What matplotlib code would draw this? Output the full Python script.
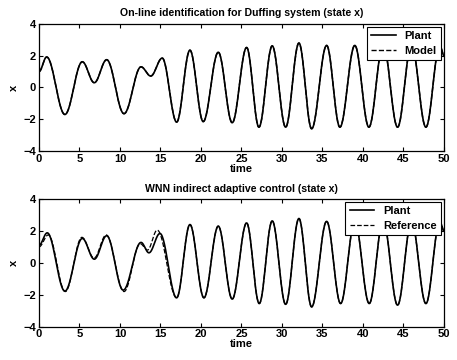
import matplotlib
matplotlib.use("Agg")
import matplotlib.pyplot as plt
import numpy as np

plt.rcParams['font.family'] = ['Liberation Sans', 'DejaVu Sans']
plt.rcParams['font.weight'] = 'bold'
plt.rcParams['font.size'] = 8

# extrema of the curves (time, x)
t_plant1 = [0, 0.95, 3.2, 5.35, 6.83, 8.36, 10.5, 12.6, 13.8, 15.22, 17.0, 18.64,
            20.28, 22.14, 23.86, 25.64, 27.16, 28.8, 30.46, 32.1, 33.67, 35.52,
            37.16, 39.0, 40.74, 42.5, 44.28, 46.0, 47.78, 49.5, 50]
x_plant1 = [1.0, 1.92, -1.7, 1.62, 0.3, 1.75, -1.65, 1.3, 0.72, 1.85, -2.18, 2.35,
            -2.15, 2.22, -2.22, 2.52, -2.5, 2.62, -2.5, 2.8, -2.6, 2.65,
            -2.5, 2.65, -2.5, 2.7, -2.5, 2.7, -2.5, 2.65, 2.0]
# the model follows the plant exactly
t_model1 = t_plant1
x_model1 = x_plant1

t_plant2 = [0, 1.02, 3.2, 5.35, 6.83, 8.36, 10.4, 12.6, 13.58, 14.94, 17.0, 18.64,
            20.37, 22.14, 23.86, 25.64, 27.2, 28.8, 30.46, 32.1, 33.67, 35.52,
            37.25, 39.0, 40.78, 42.5, 44.28, 46.0, 47.78, 49.5, 50]
x_plant2 = [1.1, 1.88, -1.77, 1.53, 0.23, 1.7, -1.71, 1.28, 0.63, 1.84, -2.19, 2.4,
            -2.19, 2.3, -2.27, 2.5, -2.55, 2.63, -2.6, 2.78, -2.76, 2.6,
            -2.55, 2.6, -2.55, 2.65, -2.65, 2.6, -2.55, 2.6, 2.0]
t_ref2 = [0, 1.15, 3.25, 5.3, 6.8, 8.3, 10.5, 12.5, 13.4, 14.6, 17.0, 18.64,
          20.37, 22.14, 23.86, 25.64, 27.2, 28.8, 30.46, 32.1, 33.67, 35.52,
          37.25, 39.0, 40.78, 42.5, 44.28, 46.0, 47.78, 49.5, 50]
x_ref2 = [1.0, 1.75, -1.8, 1.6, 0.3, 1.75, -1.8, 1.2, 0.8, 2.05, -2.19, 2.4,
          -2.19, 2.3, -2.27, 2.5, -2.55, 2.63, -2.6, 2.78, -2.76, 2.6,
          -2.55, 2.6, -2.55, 2.65, -2.65, 2.6, -2.55, 2.6, 2.0]


def smooth(tk, xk, n=30):
    # half-cosine segments between the read extrema
    ts, xs = [], []
    for i in range(len(tk) - 1):
        s = np.linspace(0, 1, n, endpoint=False)
        ts.append(tk[i] + (tk[i + 1] - tk[i]) * s)
        xs.append(xk[i] + (xk[i + 1] - xk[i]) * (1 - np.cos(np.pi * s)) / 2)
    ts.append([tk[-1]])
    xs.append([xk[-1]])
    return np.concatenate(ts), np.concatenate(xs)


def style(ax):
    ax.set_xlim(0, 50)
    ax.set_ylim(-4, 4)
    ax.set_xticks(range(0, 51, 5))
    ax.set_yticks([-4, -2, 0, 2, 4])
    ax.tick_params(direction='in', top=True, right=True, length=3, width=0.8, pad=2)
    for s in ax.spines.values():
        s.set_linewidth(0.9)
    ax.set_xlabel('time', fontweight='bold', labelpad=0)
    ax.set_ylabel('x', fontweight='bold', labelpad=3)


def add_legend(ax):
    leg = ax.legend(loc='upper right', fancybox=False, edgecolor='k', framealpha=1,
                    borderaxespad=0.25, handlelength=2.2, labelspacing=0.4,
                    borderpad=0.4)
    leg.get_frame().set_linewidth(0.8)


fig = plt.figure(figsize=(4.57, 3.6), dpi=100)
ax1 = fig.add_axes([0.0853, 0.5806, 0.886, 0.3528])
ax2 = fig.add_axes([0.0853, 0.0925, 0.886, 0.3547])

t, x = smooth(t_plant1, x_plant1)
ax1.plot(t, x, 'k-', lw=1.2, label='Plant')
t, x = smooth(t_model1, x_model1)
ax1.plot(t, x, 'k--', lw=1.0, label='Model')
style(ax1)
ax1.set_title('On-line identification for Duffing system (state x)',
              fontweight='bold', fontsize=7.6, pad=6)
add_legend(ax1)

t, x = smooth(t_plant2, x_plant2)
ax2.plot(t, x, 'k-', lw=1.2, label='Plant')
t, x = smooth(t_ref2, x_ref2)
ax2.plot(t, x, 'k--', lw=0.9, label='Reference')
style(ax2)
ax2.set_title('WNN indirect adaptive control (state x)',
              fontweight='bold', fontsize=7.6, pad=5)
add_legend(ax2)

fig.savefig('out.png', dpi=100)
